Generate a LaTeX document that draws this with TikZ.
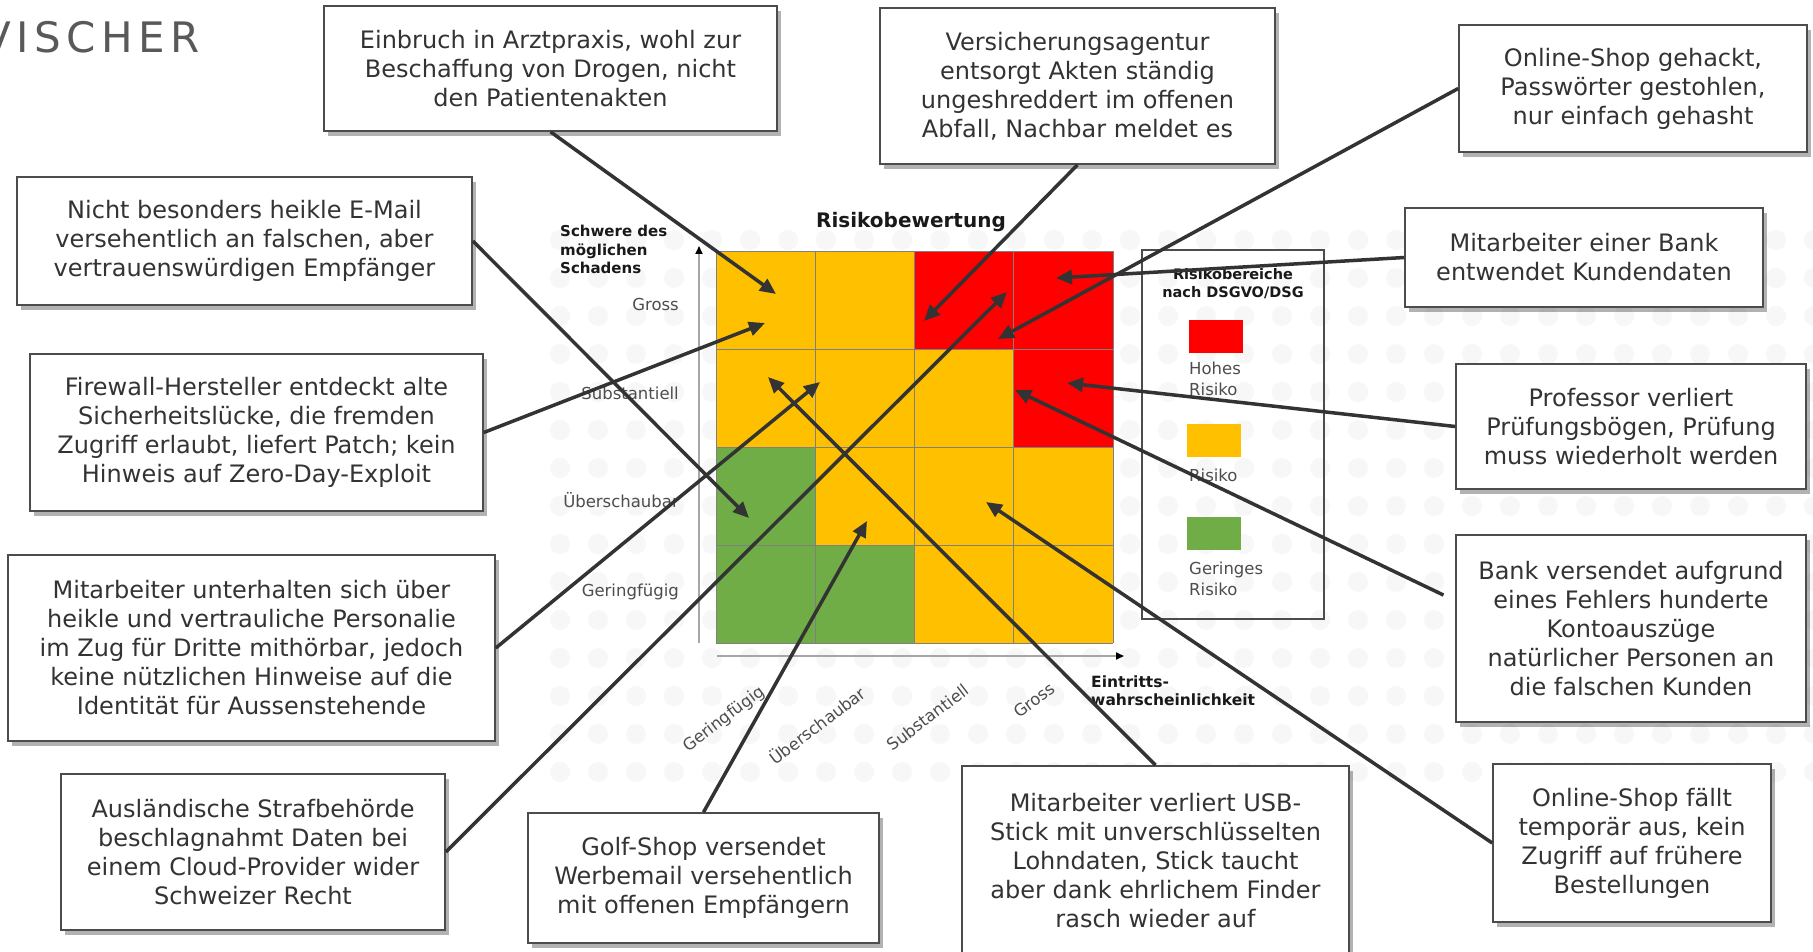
\documentclass[tikz,border=0pt]{standalone}
\usepackage{fontspec}
\setmainfont{DejaVu Sans}
\usetikzlibrary{arrows.meta,shadows}
\definecolor{rred}{HTML}{FF0000}
\definecolor{ryel}{HTML}{FFC000}
\definecolor{rgrn}{HTML}{70AD47}
\definecolor{ink}{HTML}{333333}
\definecolor{lbl}{HTML}{4D4D4D}
\begin{document}
\begin{tikzpicture}[x=1pt,y=-1pt,
  box/.style={draw=black!70, line width=1.6pt, fill=white, text=ink, align=center, inner sep=0pt,
    font=\fontsize{24}{29}\selectfont,
    drop shadow={shadow xshift=4pt, shadow yshift=-5pt, opacity=0.3, fill=black}},
  arr/.style={draw=ink, line width=3.5pt, -{Triangle[length=16pt,width=14pt]}},
  lab/.style={font=\fontsize{16.5}{20}\selectfont, text=lbl, inner sep=0pt},
  leglab/.style={font=\fontsize{16.5}{21}\selectfont, text=lbl, inner sep=0pt, align=left, anchor=west},
  bold/.style={font=\bfseries\fontsize{15}{18}\selectfont, text=black!90, inner sep=0pt},
  swatch/.style={minimum width=54pt, minimum height=33pt, inner sep=0pt},
  axis/.style={draw=black!35, line width=1.8pt, -{Triangle[length=8pt,width=7pt,color=black]}}
]
\useasboundingbox (0,0) rectangle (1813,952);
\clip (0,0) rectangle (1813,952);
\fill[white] (0,0) rectangle (1813,952);

% faint dotted background
\foreach \xx in {0,...,33} {
  \foreach \yy in {0,...,14} {
    \fill[black!3] (560+\xx*38, 240+\yy*38) circle[radius=10pt];
  }
}

% logo
\node[font=\fontsize{42}{42}\selectfont\addfontfeatures{LetterSpace=13}, text=black!65, anchor=base east, inner sep=0pt] (logo) at (200,53) {VISCHER};

% risk grid
\foreach \c [count=\i from 0] in {ryel,ryel,rred,rred, ryel,ryel,ryel,rred, rgrn,ryel,ryel,ryel, rgrn,rgrn,ryel,ryel} {
  \pgfmathtruncatemacro\col{mod(\i,4)}
  \pgfmathtruncatemacro\row{div(\i,4)}
  \fill[\c] (716+\col*99.25, 251+\row*98) rectangle ++(99.25,98);
}
\foreach \k in {0,...,4} {
  \draw[black!50, line width=0.8pt] (716+\k*99.25, 251) -- ++(0,392);
  \draw[black!50, line width=0.8pt] (716, 251+\k*98) -- ++(397,0);
}

% axes
\coordinate (yb) at (699,643);
\coordinate (yt) at (699,246);
\coordinate (xl) at (717,656);
\coordinate (xr) at (1124,656);
\draw[axis] (yb) -- (yt);
\draw[axis] (xl) -- (xr);

% titles and labels
\node[font=\bfseries\fontsize{20}{24}\selectfont, text=black!90] (title) at (911,222) {Risikobewertung};
\node[bold, align=left, anchor=north west, font=\bfseries\fontsize{15}{18.5}\selectfont] (ytitle) at (560,225) {Schwere des\\möglichen\\Schadens};
\node[lab, anchor=east] (r1) at (679,304) {Gross};
\node[lab, anchor=east] (r2) at (679,393) {Substantiell};
\node[lab, anchor=east] (r3) at (679,500) {Überschaubar};
\node[lab, anchor=east] (r4) at (679,592) {Geringfügig};
\node[lab, anchor=east, rotate=37] (c1) at (763,690) {Geringfügig};
\node[lab, anchor=east, rotate=37] (c2) at (863,690) {Überschaubar};
\node[lab, anchor=east, rotate=37] (c3) at (967,688) {Substantiell};
\node[lab, anchor=east, rotate=37] (c4) at (1053,686) {Gross};
\node[bold, align=left, anchor=north west, font=\bfseries\fontsize{15.5}{17.5}\selectfont] (xtitle) at (1091,676) {Eintritts-\\wahrscheinlichkeit};

% legend
\node[draw=black!70, line width=1.4pt, minimum width=182pt, minimum height=369pt, inner sep=0pt] (legend) at (1233,434.5) {};
\node[bold, align=center, font=\bfseries\fontsize{14.5}{18}\selectfont] (legtitle) at (1233,284) {Risikobereiche\\nach DSGVO/DSG};
\node[swatch, fill=rred] (swr) at (1216,336.5) {};
\node[swatch, fill=ryel] (swy) at (1213.5,440.5) {};
\node[swatch, fill=rgrn] (swg) at (1213.5,533.5) {};
\node[leglab] (lr) at (1189,379) {Hohes\\Risiko};
\node[leglab] (ly) at (1189,475) {Risiko};
\node[leglab] (lg) at (1189,579) {Geringes\\Risiko};

% boxes
\node[box, minimum width=453pt, minimum height=125pt] (b1) at (550.5,68.5) {Einbruch in Arztpraxis, wohl zur\\Beschaffung von Drogen, nicht\\den Patientenakten};
\node[box, minimum width=395pt, minimum height=156pt] (b2) at (1077.5,86) {Versicherungsagentur\\entsorgt Akten ständig\\ungeshreddert im offenen\\Abfall, Nachbar meldet es};
\node[box, minimum width=348pt, minimum height=127pt] (b3) at (1633,88.5) {Online-Shop gehackt,\\Passwörter gestohlen,\\nur einfach gehasht};
\node[box, minimum width=455pt, minimum height=128pt] (b4) at (244.5,241) {Nicht besonders heikle E-Mail\\versehentlich an falschen, aber\\vertrauenswürdigen Empfänger};
\node[box, minimum width=358pt, minimum height=99pt] (b5) at (1584,257.5) {Mitarbeiter einer Bank\\entwendet Kundendaten};
\node[box, minimum width=453pt, minimum height=157pt] (b6) at (256.5,432.5) {Firewall-Hersteller entdeckt alte\\Sicherheitslücke, die fremden\\Zugriff erlaubt, liefert Patch; kein\\Hinweis auf Zero-Day-Exploit};
\node[box, minimum width=350pt, minimum height=125pt] (b7) at (1631,426.5) {Professor verliert\\Prüfungsbögen, Prüfung\\muss wiederholt werden};
\node[box, minimum width=487pt, minimum height=186pt] (b8) at (251.5,648) {Mitarbeiter unterhalten sich über\\heikle und vertrauliche Personalie\\im Zug für Dritte mithörbar, jedoch\\keine nützlichen Hinweise auf die\\Identität für Aussenstehende};
\node[box, minimum width=350pt, minimum height=187pt] (b9) at (1631,628.5) {Bank versendet aufgrund\\eines Fehlers hunderte\\Kontoauszüge\\natürlicher Personen an\\die falschen Kunden};
\node[box, minimum width=384pt, minimum height=156pt] (b10) at (253,852) {Ausländische Strafbehörde\\beschlagnahmt Daten bei\\einem Cloud-Provider wider\\Schweizer Recht};
\node[box, minimum width=351pt, minimum height=130pt] (b11) at (703.5,878) {Golf-Shop versendet\\Werbemail versehentlich\\mit offenen Empfängern};
\node[box, minimum width=387pt, minimum height=190pt] (b12) at (1155.5,861) {Mitarbeiter verliert USB-\\Stick mit unverschlüsselten\\Lohndaten, Stick taucht\\aber dank ehrlichem Finder\\rasch wieder auf};
\node[box, minimum width=278pt, minimum height=158pt] (b13) at (1632,843) {Online-Shop fällt\\temporär aus, kein\\Zugriff auf frühere\\Bestellungen};

% arrow targets
\coordinate (h1) at (776,294);
\coordinate (h2) at (924,321);
\coordinate (h3) at (998,339);
\coordinate (h4) at (749,518);
\coordinate (h5) at (1056,278);
\coordinate (h6) at (765,323);
\coordinate (h7) at (1067,383);
\coordinate (h8) at (820,382);
\coordinate (h9) at (1015,390);
\coordinate (h10) at (1007,292);
\coordinate (h11) at (867,521);
\coordinate (h12) at (768,377);
\coordinate (h13) at (986,502);

% connectors
\draw[arr] (b1.south) -- (h1);
\draw[arr] (b2.south) -- (h2);
\draw[arr] (b3.west) -- (h3);
\draw[arr] (b4.east) -- (h4);
\draw[arr] (b5.west) -- (h5);
\draw[arr] (b6.east) -- (h6);
\draw[arr] (b7.west) -- (h7);
\draw[arr] (b8.east) -- (h8);
\draw[arr, shorten <=13pt] (b9.171) -- (h9);
\draw[arr] (b10.east) -- (h10);
\draw[arr] (b11.north) -- (h11);
\draw[arr] (b12.north) -- (h12);
\draw[arr] (b13.west) -- (h13);
\end{tikzpicture}
\end{document}
